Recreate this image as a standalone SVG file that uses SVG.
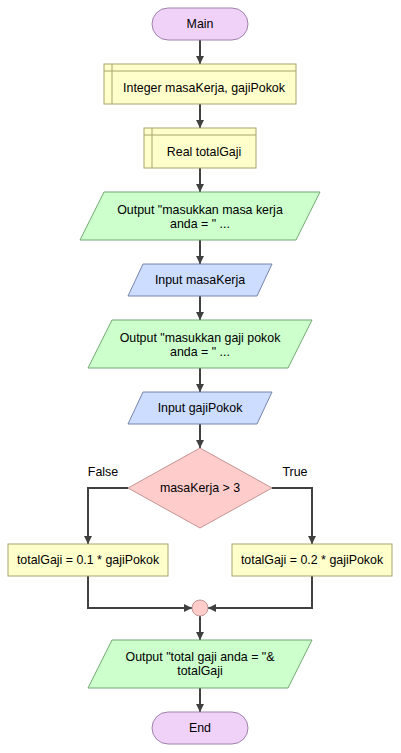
<svg xmlns="http://www.w3.org/2000/svg" width="401" height="753" viewBox="0 0 401 753">
<style>
.t{font-family:"Liberation Sans",Arial,sans-serif;font-size:12.4px;fill:#000;text-anchor:middle;dominant-baseline:central}
.term{fill:#F0D2F8;stroke:#9E82AA;stroke-width:1}
.decl{fill:#FFFFCC;stroke:#A8A468;stroke-width:1}
.proc{fill:#FFFFCC;stroke:#A8A468;stroke-width:1}
.out{fill:#CCFFCC;stroke:#72A672;stroke-width:1}
.in{fill:#CCDDFF;stroke:#7484AA;stroke-width:1}
.dec{fill:#FFCCCC;stroke:#C49494;stroke-width:1}
.c{fill:none;stroke:#404040;stroke-width:2;marker-end:url(#ah)}
.c2{fill:none;stroke:#404040;stroke-width:2}
</style>
<defs>
<marker id="ah" markerUnits="userSpaceOnUse" markerWidth="10" markerHeight="10" refX="8" refY="4" orient="auto">
<path d="M0,0 L8,4 L0,8 z" fill="#404040"/>
</marker>
</defs>
<rect width="401" height="753" fill="#fff"/>
<g id="connectors">
<line class="c" x1="200" y1="40" x2="200" y2="64"/>
<line class="c" x1="200" y1="104" x2="200" y2="128"/>
<line class="c" x1="200" y1="168" x2="200" y2="192"/>
<line class="c" x1="200" y1="240" x2="200" y2="264"/>
<line class="c" x1="200" y1="296" x2="200" y2="320"/>
<line class="c" x1="200" y1="368" x2="200" y2="392"/>
<line class="c" x1="200" y1="424" x2="200" y2="448"/>
<polyline class="c" points="128,488 88,488 88,544"/>
<polyline class="c" points="272,488 312,488 312,544"/>
<polyline class="c" points="88,576 88,608 192,608"/>
<polyline class="c" points="312,576 312,608 208,608"/>
<line class="c" x1="200" y1="616" x2="200" y2="640"/>
<line class="c" x1="200" y1="688" x2="200" y2="712"/>
<text class="t" x="103" y="472">False</text>
<text class="t" x="295" y="472">True</text>
</g>
<g id="main">
<rect class="term" x="152" y="8" width="96" height="32" rx="16"/>
<text class="t" x="200" y="24">Main</text>
</g>
<g id="declare1">
<rect class="decl" x="104" y="64" width="192" height="40"/>
<line class="decl" x1="112" y1="64" x2="112" y2="104"/>
<line class="decl" x1="104" y1="71" x2="296" y2="71"/>
<text class="t" x="204" y="88">Integer masaKerja, gajiPokok</text>
</g>
<g id="declare2">
<rect class="decl" x="144" y="128" width="112" height="40"/>
<line class="decl" x1="152" y1="128" x2="152" y2="168"/>
<line class="decl" x1="144" y1="135" x2="256" y2="135"/>
<text class="t" x="204" y="152">Real totalGaji</text>
</g>
<g id="output1">
<polygon class="out" points="104,192 320,192 296,240 80,240"/>
<text class="t" x="200" y="210">Output "masukkan masa kerja</text>
<text class="t" x="200" y="224">anda = " ...</text>
</g>
<g id="input1">
<polygon class="in" points="143,264 272,264 257,296 128,296"/>
<text class="t" x="200" y="280">Input masaKerja</text>
</g>
<g id="output2">
<polygon class="out" points="112,320 312,320 288,368 88,368"/>
<text class="t" x="200" y="338">Output "masukkan gaji pokok</text>
<text class="t" x="200" y="352">anda = " ...</text>
</g>
<g id="input2">
<polygon class="in" points="143,392 272,392 257,424 128,424"/>
<text class="t" x="200" y="408">Input gajiPokok</text>
</g>
<g id="decision">
<polygon class="dec" points="200,448 272,488 200,528 128,488"/>
<text class="t" x="200" y="488">masaKerja &gt; 3</text>
</g>
<g id="assignFalse">
<rect class="proc" x="8" y="544" width="160" height="32"/>
<text class="t" x="88" y="560">totalGaji = 0.1 * gajiPokok</text>
</g>
<g id="assignTrue">
<rect class="proc" x="232" y="544" width="160" height="32"/>
<text class="t" x="312" y="560">totalGaji = 0.2 * gajiPokok</text>
</g>
<g id="merge">
<circle class="dec" cx="200" cy="608" r="8"/>
</g>
<g id="output3">
<polygon class="out" points="112,640 312,640 288,688 88,688"/>
<text class="t" x="200" y="657">Output "total gaji anda = "&amp;</text>
<text class="t" x="200" y="671">totalGaji</text>
</g>
<g id="end">
<rect class="term" x="152" y="712" width="96" height="32" rx="16"/>
<text class="t" x="200" y="728">End</text>
</g>
</svg>
